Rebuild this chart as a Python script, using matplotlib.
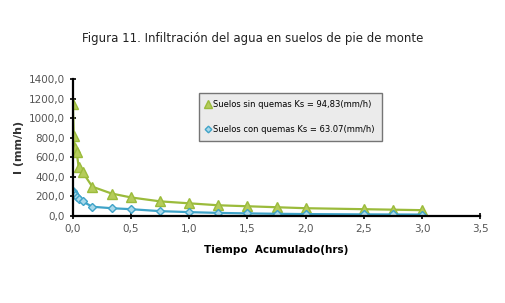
import numpy as np
import matplotlib
matplotlib.use('Agg')
import matplotlib.pyplot as plt

# Tiempo acumulado (hrs)
t_sin = [0.0, 0.008, 0.017, 0.033, 0.05, 0.083, 0.167, 0.333, 0.5, 0.75, 1.0, 1.25, 1.5, 1.75, 2.0, 2.5, 2.75, 3.0]
i_sin = [1150, 820, 700, 650, 500, 450, 300, 230, 190, 150, 130, 110, 100, 90, 80, 70, 65, 60]
t_con = [0.0, 0.008, 0.017, 0.033, 0.05, 0.083, 0.167, 0.333, 0.5, 0.75, 1.0, 1.25, 1.5, 1.75, 2.0, 2.5, 2.75, 3.0]
i_con = [260, 240, 220, 190, 170, 150, 95, 80, 70, 50, 40, 32, 27, 23, 20, 17, 16, 15]

LBL_SIN = 'Suelos sin quemas Ks = 94,83(mm/h)'
LBL_CON = 'Suelos con quemas Ks = 63.07(mm/h)'

GREEN = '#9bbb3b'
BLUE = '#3fa3c8'

fig = plt.figure(figsize=(5.06, 3.03), dpi=100)
ax = fig.add_axes([0.144, 0.287, 0.805, 0.452])

ax.plot(t_sin, i_sin, color=GREEN, lw=1.6, marker='^', ms=7,
        mfc='#b5cc5a', mec=GREEN, label=LBL_SIN)
ax.plot(t_con, i_con, color=BLUE, lw=1.6, marker='D', ms=4.5,
        mfc='#a9d8ea', mec=BLUE, label=LBL_CON)

ax.set_xlim(0, 3.5)
ax.set_ylim(0, 1400)
ax.set_xticks(np.arange(0, 3.51, 0.5))
ax.set_yticks(np.arange(0, 1401, 200))
ax.set_xticklabels([f'{v:.1f}'.replace('.', ',') for v in np.arange(0, 3.51, 0.5)])
ax.set_yticklabels([f'{v:.1f}'.replace('.', ',') for v in np.arange(0, 1401, 200)])
ax.tick_params(direction='inout', length=4, width=1.2, labelsize=7.5,
               labelcolor='#555555')

for s in ['top', 'right']:
    ax.spines[s].set_visible(False)
for s in ['left', 'bottom']:
    ax.spines[s].set_linewidth(1.6)

ax.set_ylabel('I (mm/h)', fontsize=8, fontweight='bold', color='#333333', labelpad=4)
ax.set_xlabel('Tiempo  Acumulado(hrs)', fontsize=7.5, fontweight='bold', labelpad=8)

leg = ax.legend(loc='upper left', bbox_to_anchor=(0.3, 0.93), fontsize=6,
                frameon=True, fancybox=False, labelspacing=2.0,
                handlelength=0.6, handletextpad=0.3, borderpad=0.8,
                markerscale=0.75)
leg.get_frame().set_edgecolor('#555555')
leg.get_frame().set_facecolor('#e6e6e6')
leg.get_frame().set_linewidth(1.0)
for h in leg.get_lines():
    h.set_linestyle('none')

fig.text(0.5, 0.86, 'Figura 11. Infiltración del agua en suelos de pie de monte',
         ha='center', fontsize=8.5, color='#222222')

fig.savefig('out.png', dpi=100)
